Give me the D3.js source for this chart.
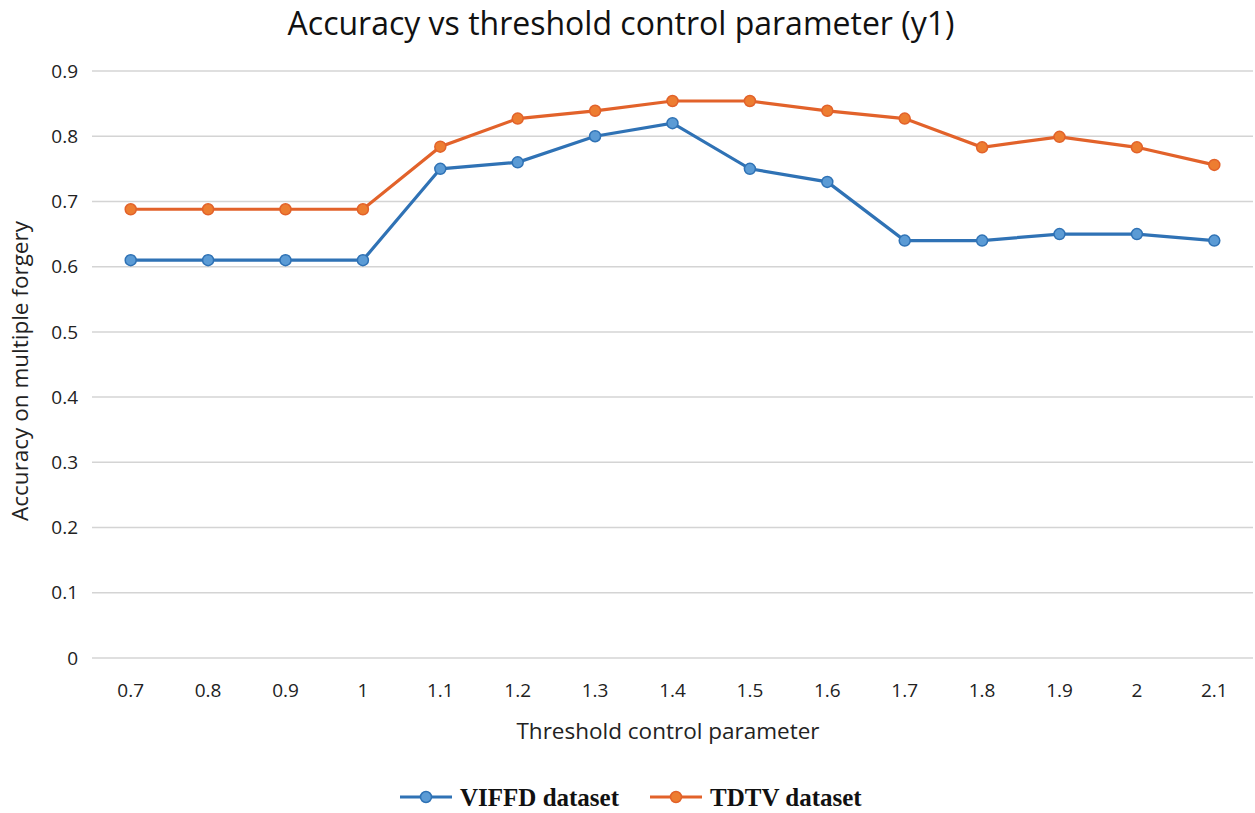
<!DOCTYPE html>
<html>
<head>
<meta charset="utf-8">
<script src="https://cdn.jsdelivr.net/npm/d3@7"></script>
<style>
  body { margin: 0; background: #fff; }
  svg { display: block; }
</style>
</head>
<body>
<svg id="chart" width="1255" height="813"></svg>
<script>
const categories = ["0.7", "0.8", "0.9", "1", "1.1", "1.2", "1.3", "1.4", "1.5", "1.6", "1.7", "1.8", "1.9", "2", "2.1"];
const viffd = [0.61, 0.61, 0.61, 0.61, 0.75, 0.76, 0.80, 0.82, 0.75, 0.73, 0.64, 0.64, 0.65, 0.65, 0.64];
const tdtv = [0.688, 0.688, 0.688, 0.688, 0.784, 0.827, 0.839, 0.854, 0.854, 0.839, 0.827, 0.783, 0.799, 0.783, 0.756];
const yTicks = [0, 0.1, 0.2, 0.3, 0.4, 0.5, 0.6, 0.7, 0.8, 0.9];

const series = [
  { name: "VIFFD dataset", values: viffd, line: "#2f72b5", fill: "#5b9bd5" },
  { name: "TDTV dataset", values: tdtv, line: "#e2622a", fill: "#ed7d31" }
];

const svg = d3.select("#chart");
const sans = "'Open Sans', 'Noto Sans', sans-serif";
const plotL = 92, plotR = 1253, plotT = 71, plotB = 658;

const x = d3.scaleBand().domain(categories).range([plotL, plotR]);
const y = d3.scaleLinear().domain([0, 0.9]).range([plotB, plotT]);

// gridlines
svg.append("g").selectAll("line").data(yTicks).join("line")
  .attr("x1", plotL).attr("x2", plotR)
  .attr("y1", d => y(d)).attr("y2", d => y(d))
  .attr("stroke", "#d4d4d4").attr("stroke-width", 1.5);

// y tick labels
svg.append("g").selectAll("text").data(yTicks).join("text")
  .attr("x", 78).attr("y", d => y(d)).attr("dy", "0.35em")
  .attr("text-anchor", "end")
  .style("font-family", sans).style("font-size", "19px").style("fill", "#222")
  .text(d => d === 0 ? "0" : d3.format(".1f")(d));

// x tick labels
svg.append("g").selectAll("text").data(categories).join("text")
  .attr("x", d => x(d) + x.bandwidth() / 2).attr("y", 697)
  .attr("text-anchor", "middle")
  .style("font-family", sans).style("font-size", "19px").style("fill", "#222")
  .text(d => d);

// title
svg.append("text").attr("x", 621).attr("y", 35).attr("text-anchor", "middle")
  .style("font-family", sans).style("font-size", "32px").style("fill", "#111")
  .text("Accuracy vs threshold control parameter (y1)");

// axis titles
svg.append("text").attr("x", 668).attr("y", 739).attr("text-anchor", "middle")
  .style("font-family", sans).style("font-size", "22.5px").style("fill", "#222")
  .text("Threshold control parameter");

svg.append("text")
  .attr("transform", "translate(28,371) rotate(-90)")
  .attr("text-anchor", "middle")
  .style("font-family", sans).style("font-size", "22.5px").style("fill", "#222")
  .text("Accuracy on multiple forgery");

// lines and markers
const line = d3.line()
  .x((d, i) => x(categories[i]) + x.bandwidth() / 2)
  .y(d => y(d));

series.forEach(s => {
  svg.append("path").datum(s.values)
    .attr("d", line).attr("fill", "none")
    .attr("stroke", s.line).attr("stroke-width", 3.2);
  svg.append("g").selectAll("circle").data(s.values).join("circle")
    .attr("cx", (d, i) => x(categories[i]) + x.bandwidth() / 2)
    .attr("cy", d => y(d)).attr("r", 5.5)
    .attr("fill", s.fill).attr("stroke", s.line).attr("stroke-width", 1.5);
});

// legend
const legendX = [400, 650];
const lg = svg.append("g").selectAll("g").data(series).join("g")
  .attr("transform", (d, i) => `translate(${legendX[i]},797)`);
lg.append("line").attr("x1", 0).attr("x2", 52).attr("y1", 0).attr("y2", 0)
  .attr("stroke", d => d.line).attr("stroke-width", 3.2);
lg.append("circle").attr("cx", 26).attr("cy", 0).attr("r", 5.5)
  .attr("fill", d => d.fill).attr("stroke", d => d.line).attr("stroke-width", 1.5);
lg.append("text").attr("x", 60).attr("y", 0).attr("dy", "0.35em")
  .style("font-family", "'Liberation Serif', 'Times New Roman', serif")
  .style("font-size", "25px").style("font-weight", "bold").style("fill", "#111")
  .text(d => d.name);
</script>
</body>
</html>
